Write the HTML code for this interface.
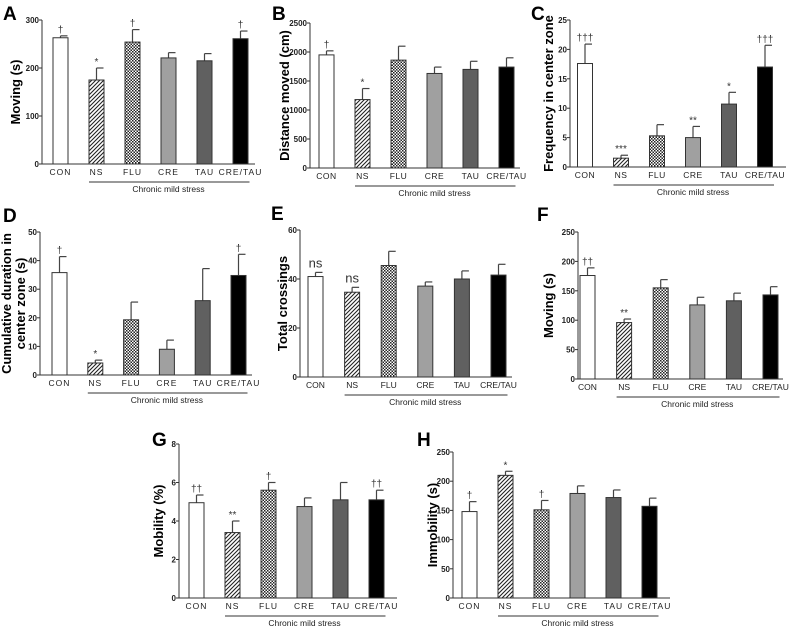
<!DOCTYPE html>
<html><head><meta charset="utf-8">
<style>
html,body{margin:0;padding:0;background:#fff;}
svg{display:block;font-family:"Liberation Sans",Arial,sans-serif;}
</style></head>
<body>
<svg id="fig" width="792" height="627" viewBox="0 0 792 627" xmlns="http://www.w3.org/2000/svg">
<defs>
<pattern id="hatch" patternUnits="userSpaceOnUse" width="4" height="4">
<rect width="4" height="4" fill="#fff"/>
<path d="M-1,1 L1,-1 M0,4 L4,0 M3,5 L5,3" stroke="#222" stroke-width="1.1"/>
</pattern>
<pattern id="check" patternUnits="userSpaceOnUse" width="3" height="3">
<rect width="3" height="3" fill="#fff"/><rect width="1.5" height="1.5" fill="#222"/><rect x="1.5" y="1.5" width="1.5" height="1.5" fill="#222"/>
</pattern>
</defs>
</svg>
<script>
const categories = ["CON","NS","FLU","CRE","TAU","CRE/TAU"];
const valuesA = [263,175,254,221,215,261];
const errorsA = [4,25,26,11,15,16];
const marksA = ["†","*","†","","","†"];
const ticksA = [0,100,200,300];
const valuesB = [1950,1180,1860,1630,1700,1740];
const errorsB = [70,190,240,110,140,160];
const marksB = ["†","*","","","",""];
const ticksB = [0,500,1000,1500,2000,2500];
const valuesC = [17.6,1.5,5.3,5.0,10.7,17.0];
const errorsC = [3.3,0.5,1.9,1.9,2.0,3.7];
const marksC = ["†††","***","","**","*","†††"];
const ticksC = [0,5,10,15,20,25];
const valuesD = [35.8,4.2,19.3,9.0,26.0,34.8];
const errorsD = [5.6,1.0,6.2,3.2,11.2,7.4];
const marksD = ["†","*","","","","†"];
const ticksD = [0,10,20,30,40,50];
const valuesE = [41.0,34.6,45.5,37.1,40.0,41.6];
const errorsE = [1.7,2.0,5.8,1.7,3.3,4.4];
const marksE = ["ns","ns","","","",""];
const ticksE = [0,20,40,60];
const valuesF = [176,96,155,126,133,143];
const errorsF = [13,6,14,13,13,14];
const marksF = ["††","**","","","",""];
const ticksF = [0,50,100,150,200,250];
const valuesG = [4.95,3.4,5.6,4.75,5.1,5.1];
const errorsG = [0.4,0.6,0.4,0.45,0.9,0.5];
const marksG = ["††","**","†","","","††"];
const ticksG = [0,2,4,6,8];
const valuesH = [148,210,151,179,172,157];
const errorsH = [17,7,16,13,13,14];
const marksH = ["†","*","†","","",""];
const ticksH = [0,50,100,150,200,250];

const NS = "http://www.w3.org/2000/svg";
const svg = document.getElementById("fig");
const fills = ["#fff","url(#hatch)","url(#check)","#a0a0a0","#606060","#000"];

function mk(tag, attrs, parent){
  const e = document.createElementNS(NS, tag);
  for (const k in attrs) e.setAttribute(k, attrs[k]);
  (parent||svg).appendChild(e);
  return e;
}

function panel(p, values, errors, marks, ticks){
  const g = mk("g", {});
  
  
  const ymax = ticks[ticks.length-1];
  const y = v => p.y0 - (v / ymax) * (p.y0 - p.yTop);
  const x = i => p.bar0 + i * p.step;
  const lt = mk("text", {x:p.lx, y:p.ly, "font-size":19, "font-weight":"bold", fill:"#000"}, g);
  lt.textContent = p.letter;
  
  
  const ax = mk("line", {x1:p.ax, y1:p.yTop, x2:p.ax, y2:p.y0, stroke:"#333", "stroke-width":1}, g);
  
  
  const bx = mk("line", {x1:p.ax, y1:p.y0, x2:p.axEnd, y2:p.y0, stroke:"#333", "stroke-width":1}, g);
  
  
  ticks.forEach(t => {
    mk("line", {x1:p.ax-3, y1:y(t), x2:p.ax, y2:y(t), stroke:"#333"}, g);
    const tt = mk("text", {x:p.ax-3, y:y(t)+3, "font-size":8, "font-weight":"bold", "text-anchor":"end", fill:"#222"}, g);
    tt.textContent = t;
    
    
  });
  const ty = (p.yTop + p.y0) / 2;
  p.title.forEach((line, k) => {
    const tx = p.tx + k * 14;
    const t = mk("text", {x:tx, y:ty, "font-size":13, "font-weight":"bold", "text-anchor":"middle", fill:"#000", transform:`rotate(-90 ${tx} ${ty})`}, g);
    t.textContent = line;
    
    
  });
  values.forEach((v, i) => {
    const cx = x(i);
    const top = y(v), et = y(v + errors[i]);
    mk("line", {x1:cx, y1:top, x2:cx, y2:et, stroke:"#444", "stroke-width":1.2}, g);
    mk("line", {x1:cx, y1:et, x2:cx+7, y2:et, stroke:"#444", "stroke-width":1.2}, g);
    const r = mk("rect", {x:cx-7.5, y:top, width:15, height:p.y0-top, fill:fills[i], stroke:"#333", "stroke-width":1}, g);
    
    
    if (marks[i]) {
      const isNs = marks[i] === "ns";
      const m = mk("text", {x:cx, y:et - (isNs ? 5 : 3), "font-size": isNs ? 13 : 10, "text-anchor":"middle", fill:"#333"}, g);
      m.textContent = marks[i];
      
      
    }
    const cl = mk("text", {x:cx, y:p.y0+11, "font-size":8.5, "text-anchor":"middle", fill:"#222", "letter-spacing":p.ls}, g);
    cl.textContent = categories[i];
    
    
  });
  const ul = mk("line", {x1:x(1)-7.5, y1:p.y0+18, x2:x(5)+9, y2:p.y0+18, stroke:"#333"}, g);
  
  
  const gt = mk("text", {x:(x(1)+x(5))/2, y:p.y0+28, "font-size":8.5, "text-anchor":"middle", fill:"#222"}, g);
  gt.textContent = "Chronic mild stress";
  
  
}

panel({letter:"A", lx:3, ly:20, ax:42, axEnd:255, yTop:20, y0:164, bar0:60.5, step:36, tx:20, title:["Moving (s)"], ls:1}, valuesA, errorsA, marksA, ticksA);
panel({letter:"B", lx:272, ly:20, ax:310, axEnd:520, yTop:23, y0:168, bar0:326.5, step:36, tx:289, title:["Distance moved (cm)"], ls:0.5}, valuesB, errorsB, marksB, ticksB);
panel({letter:"C", lx:531, ly:20, ax:570, axEnd:786, yTop:20, y0:167, bar0:585, step:36, tx:553, title:["Frequency in center zone"], ls:0.5}, valuesC, errorsC, marksC, ticksC);
panel({letter:"D", lx:3, ly:222, ax:40, axEnd:252, yTop:232, y0:375, bar0:59.5, step:35.8, tx:11, title:["Cumulative duration in","center zone (s)"], ls:1}, valuesD, errorsD, marksD, ticksD);
panel({letter:"E", lx:271, ly:220, ax:300, axEnd:512, yTop:230, y0:377, bar0:315.5, step:36.6, tx:287, title:["Total crossings"], ls:0}, valuesE, errorsE, marksE, ticksE);
panel({letter:"F", lx:537, ly:221, ax:578, axEnd:783, yTop:232, y0:379, bar0:587.5, step:36.6, tx:553, title:["Moving (s)"], ls:0}, valuesF, errorsF, marksF, ticksF);
panel({letter:"G", lx:152, ly:446, ax:179, axEnd:397, yTop:444, y0:598, bar0:196.5, step:36, tx:163, title:["Mobility (%)"], ls:1}, valuesG, errorsG, marksG, ticksG);
panel({letter:"H", lx:417, ly:446, ax:453, axEnd:670, yTop:452, y0:598, bar0:469.5, step:36, tx:437, title:["Immobility (s)"], ls:1}, valuesH, errorsH, marksH, ticksH);
</script>
</body></html>
